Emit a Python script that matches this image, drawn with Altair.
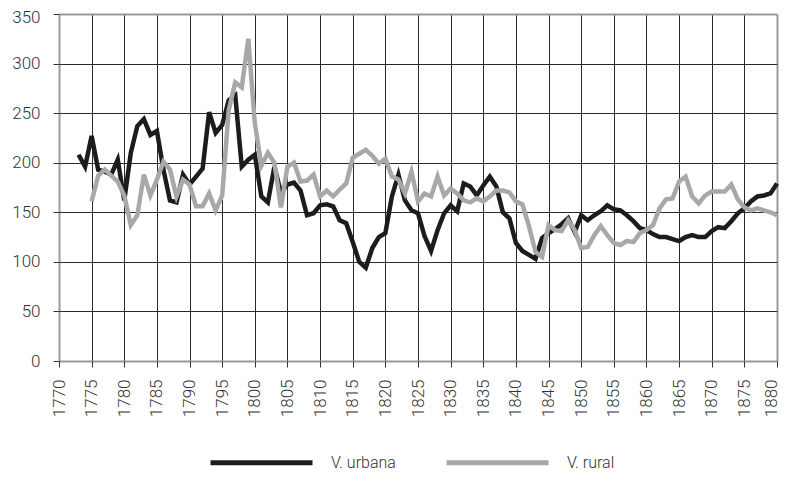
import altair as alt
import pandas as pd

series_names = ["V. urbana", "V. rural"]
series_colors = ["#1c1c1c", "#a7a8aa"]

urb_years = list(range(1773, 1881))
urb_vals = [
    208, 196, 227, 193, 191, 188, 203, 162, 210, 237,
    244, 228, 232, 193, 162, 160, 188, 178, 186, 194,
    251, 230, 238, 263, 268, 196, 203, 208, 166, 160,
    196, 170, 178, 180, 172, 147, 149, 157, 158, 156,
    142, 139, 120, 100, 94, 114, 125, 129, 166, 188,
    162, 152, 149, 126, 111, 132, 149, 157, 151, 179,
    176, 167, 177, 186, 176, 150, 144, 119, 111, 107,
    103, 124, 129, 133, 138, 144, 130, 147, 142, 147,
    151, 157, 153, 152, 147, 141, 134, 132, 128, 125,
    125, 123, 121, 125, 127, 125, 125, 131, 135, 134,
    141, 149, 154, 161, 166, 167, 169, 179,
]

rur_years = list(range(1775, 1881))
rur_vals = [
    161, 187, 193, 187, 181, 167, 137, 147, 188, 167,
    183, 201, 193, 166, 183, 178, 156, 156, 169, 152,
    167, 253, 281, 276, 325, 240, 197, 210, 200, 155,
    196, 200, 181, 182, 188, 166, 172, 166, 173, 179,
    205, 209, 213, 207, 199, 204, 186, 183, 169, 191,
    161, 169, 166, 186, 167, 174, 169, 162, 160, 164,
    161, 166, 172, 172, 170, 161, 158, 136, 110, 105,
    137, 132, 131, 142, 132, 114, 115, 127, 136, 127,
    119, 117, 121, 120, 129, 132, 137, 154, 163, 164,
    181, 186, 166, 159, 167, 171, 171, 171, 178, 163,
    155, 152, 154, 152, 150, 147,
]

x_ticks = list(range(1770, 1881, 5))
y_ticks = list(range(0, 351, 50))

df = pd.concat([
    pd.DataFrame({"year": urb_years, "value": urb_vals, "serie": series_names[0]}),
    pd.DataFrame({"year": rur_years, "value": rur_vals, "serie": series_names[1]}),
], ignore_index=True)

FONT = "Roboto"

x_enc = alt.X(
    "year:Q",
    scale=alt.Scale(domain=[1770, 1880], nice=False, zero=False),
    axis=alt.Axis(
        values=x_ticks, format="d", title=None, labelAngle=-90,
        labelPadding=12, tickSize=6, tickColor="#333333", domain=False,
        labelOffset={"condition": {"test": "datum.value === 1880", "value": -6}, "value": 0},
        gridColor={"condition": {"test": "datum.value === 1770 || datum.value === 1880", "value": "#9a9a9a"}, "value": "#2a2a2a"},
        gridWidth={"condition": {"test": "datum.value === 1770 || datum.value === 1880", "value": 2}, "value": 1},
    ),
)
y_enc = alt.Y(
    "value:Q",
    scale=alt.Scale(domain=[0, 350], nice=False),
    axis=alt.Axis(
        values=y_ticks, title=None, labelPadding=13, tickSize=6,
        tickColor="#333333", domain=False,
        labelOffset={"condition": {"test": "datum.value === 350", "value": 3}, "value": 0},
        gridColor={"condition": {"test": "datum.value === 0 || datum.value === 350", "value": "#9a9a9a"}, "value": "#2a2a2a"},
        gridWidth={"condition": {"test": "datum.value === 0 || datum.value === 350", "value": 2}, "value": 1},
    ),
)
color_enc = alt.Color(
    "serie:N",
    scale=alt.Scale(domain=series_names, range=series_colors),
    legend=alt.Legend(
        title=None, orient="none", direction="horizontal",
        legendX=149, legendY=395, symbolType="stroke",
        symbolSize=10404, symbolStrokeWidth=5, labelOffset=16,
        columnPadding=40, padding=0,
        labelFont=FONT, labelFontSize=16, labelFontWeight=300,
        labelColor="#333333",
    ),
)

base = alt.Chart(df).mark_line(strokeWidth=4.5, strokeJoin="miter", strokeCap="butt")

urb = base.transform_filter(alt.datum.serie == series_names[0]).encode(x=x_enc, y=y_enc, color=color_enc)
rur = base.transform_filter(alt.datum.serie == series_names[1]).encode(x=x_enc, y=y_enc, color=color_enc)

chart = alt.layer(urb, rur).properties(
    width=718, height=347,
    autosize=alt.AutoSizeParams(type="none"),
    padding={"left": 51, "top": 6, "right": 2, "bottom": 110},
).configure_view(stroke=None).configure_axis(
    labelFont=FONT, labelFontSize=17, labelFontWeight=300, labelColor="#333333",
    grid=True,
)

chart.save("out.html", embed_options={"renderer": "svg", "actions": False})
